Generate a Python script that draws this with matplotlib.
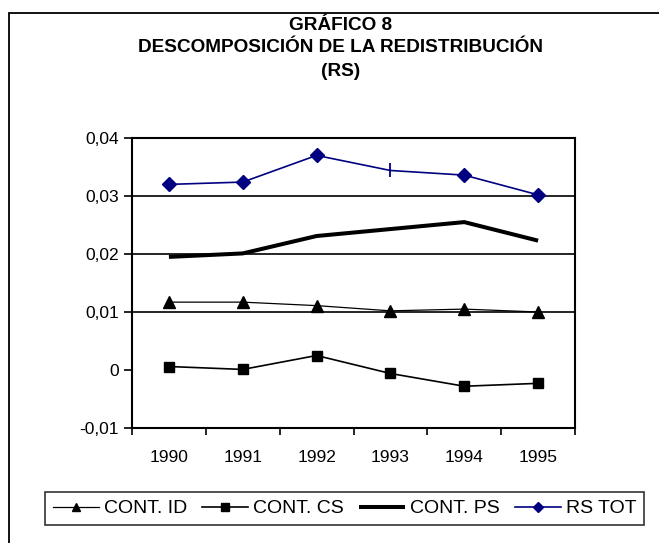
import matplotlib
matplotlib.use("Agg")
import matplotlib.pyplot as plt
from matplotlib.patches import Rectangle
from matplotlib.ticker import FixedLocator, FuncFormatter

plt.rcParams['font.family'] = ['Liberation Sans', 'DejaVu Sans']

years = ["1990", "1991", "1992", "1993", "1994", "1995"]
cont_id = [0.0117, 0.0117, 0.0111, 0.0102, 0.0105, 0.0100]
cont_cs = [0.0006, 0.0001, 0.0025, -0.0006, -0.0028, -0.0023]
cont_ps = [0.0195, 0.0201, 0.0231, 0.0243, 0.0255, 0.0223]
rs_tot = [0.0320, 0.0324, 0.0370, 0.0344, 0.0336, 0.0302]

W, H = 659, 543
fig = plt.figure(figsize=(W / 100, H / 100), dpi=100)
ax = fig.add_axes([132 / W, 1 - 428 / H, 443 / W, 290 / H])

# outer frame
fig.patches.append(Rectangle((9 / W, -0.05), 1.1, 1 - 13 / H + 0.05,
                             transform=fig.transFigure, fill=False,
                             edgecolor='black', linewidth=1.3, clip_on=False))

x = list(range(len(years)))
navy = '#000080'
ax.plot(x, cont_id, color='black', lw=0.9, marker='^', ms=8, label='CONT. ID')
ax.plot(x, cont_cs, color='black', lw=1.2, marker='s', ms=7.5, label='CONT. CS')
ax.plot(x, cont_ps, color='black', lw=2.9, label='CONT. PS', solid_capstyle='butt')
ax.plot(x, rs_tot, color=navy, lw=1.2, marker='D', ms=7, label='RS TOT',
        markevery=[0, 1, 2, 4, 5])
# the 1993 point shows a vertical tick mark instead of a diamond
ax.plot([x[3]], [rs_tot[3]], color=navy, marker='|', ms=10, mew=1.3, ls='none')

ax.set_xlim(-0.5, len(years) - 0.5)
ax.set_ylim(-0.01, 0.04)
yt = [-0.01, 0.0, 0.01, 0.02, 0.03, 0.04]
ax.set_yticks(yt)
ax.yaxis.set_major_formatter(FuncFormatter(
    lambda v, p: '0' if abs(v) < 1e-12 else ('%.2f' % v).replace('.', ',')))
for g in [0.01, 0.02, 0.03]:
    ax.axhline(g, color='black', lw=1.2, zorder=0.5)

ax.set_xticks(x)
ax.set_xticklabels(years)
ax.xaxis.set_minor_locator(FixedLocator([i - 0.5 for i in range(len(years) + 1)]))
ax.tick_params(axis='x', which='major', length=0, pad=15.5, labelsize=12.5)
ax.tick_params(axis='x', which='minor', length=5, width=1.2, direction='out')
ax.tick_params(axis='y', length=5.5, width=1.2, direction='out', pad=4, labelsize=12.5)
for s in ax.spines.values():
    s.set_linewidth(1.5)

fig.text(341 / W, 1 - 25 / H, 'GRÁFICO 8', ha='center', va='center',
         fontsize=13.7, fontweight='bold')
fig.text(341 / W, 1 - 48 / H, 'DESCOMPOSICIÓN DE LA REDISTRIBUCIÓN', ha='center',
         va='center', fontsize=13.7, fontweight='bold')
fig.text(341 / W, 1 - 71 / H, '(RS)', ha='center', va='center',
         fontsize=13.7, fontweight='bold')

handles, labels = ax.get_legend_handles_labels()
leg = fig.legend(handles[:4], labels[:4], loc='center', ncol=4,
                 bbox_to_anchor=(344.5 / W, 1 - 508.5 / H), frameon=True,
                 fancybox=False, edgecolor='black', fontsize=14,
                 handlelength=2.37, handletextpad=0.26, columnspacing=0.77,
                 borderpad=0.38, borderaxespad=0, markerscale=0.75)
leg.get_frame().set_linewidth(1.2)

fig.savefig('out.png', dpi=100)
